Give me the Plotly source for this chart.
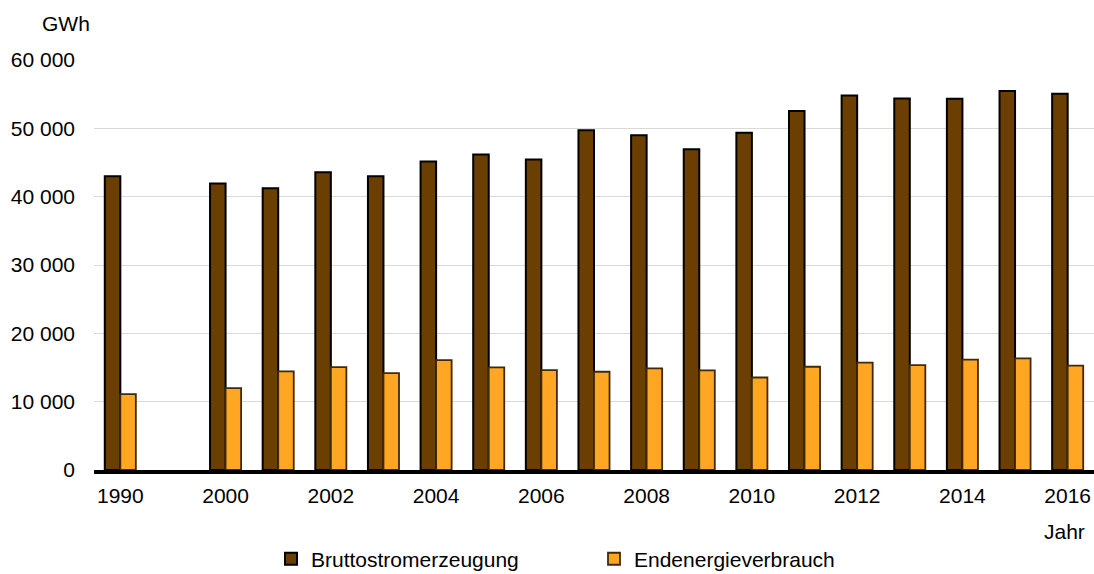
import plotly.graph_objects as go

# Years on the category axis; the blank slot separates 1990 from 2000
categories = ["1990", " ", "2000", "2001", "2002", "2003", "2004", "2005", "2006",
              "2007", "2008", "2009", "2010", "2011", "2012", "2013", "2014",
              "2015", "2016"]

# Gross electricity generation (GWh)
brutto = [42980, None, 41920, 41230, 43570, 42980, 45130, 46160, 45430,
          49730, 48990, 46940, 49340, 52520, 54820, 54380, 54330, 55450, 55060]

# Final energy consumption (GWh)
endenergie = [11100, None, 11980, 14420, 15060, 14180, 16090, 15010, 14620,
              14380, 14860, 14570, 13540, 15110, 15700, 15360, 16140, 16330, 15260]

tick_labels = ["1990", "2000", "2002", "2004", "2006", "2008", "2010",
               "2012", "2014", "2016"]

FONT = "Liberation Sans, Arial, sans-serif"
FS = 21

fig = go.Figure()
fig.add_trace(go.Bar(
    x=categories, y=brutto, name="Bruttostromerzeugung",
    marker=dict(color="#6B3F01", line=dict(color="#000000", width=2)),
))
fig.add_trace(go.Bar(
    x=categories, y=endenergie, name="Endenergieverbrauch",
    marker=dict(color="#FFA623", line=dict(color="#3F2A0B", width=1.8)),
))

fig.update_layout(
    width=1094, height=574,
    margin=dict(l=94, r=0, t=60, b=104, autoexpand=False),
    paper_bgcolor="white", plot_bgcolor="white",
    barmode="group", bargap=0.41, bargroupgap=0,
    separators=", ",
    font=dict(family=FONT, size=FS, color="#000000"),
    showlegend=True,
    legend=dict(
        orientation="h", x=0.177, xanchor="left",
        yref="container", y=0.026, yanchor="middle",
        font=dict(family=FONT, size=FS, color="#000000"),
        entrywidth=278, itemwidth=30, traceorder="normal",
    ),
    xaxis=dict(
        type="category", categoryorder="array", categoryarray=categories,
        tickmode="array", tickvals=tick_labels, ticktext=tick_labels,
        showline=True, linecolor="#000000", linewidth=3.5,
        showgrid=False, ticks="", ticklabelstandoff=4,
        range=[-0.5, 18.5], automargin=False,
    ),
    yaxis=dict(
        range=[0, 60000], dtick=10000, tickformat=",d",
        showgrid=True, gridcolor="#D9D9D9", gridwidth=1,
        zeroline=False, showline=False, ticks="", ticklabelstandoff=18,
        automargin=False,
    ),
    annotations=[
        dict(text="GWh", xref="paper", yref="paper", x=-0.054, y=1.09,
             xanchor="left", yanchor="middle", showarrow=False,
             font=dict(family=FONT, size=FS, color="#000000")),
        dict(text="Jahr", xref="paper", yref="paper", x=0.993, y=-0.15,
             xanchor="right", yanchor="middle", showarrow=False,
             font=dict(family=FONT, size=FS, color="#000000")),
    ],
)

fig.write_html("out.html")
